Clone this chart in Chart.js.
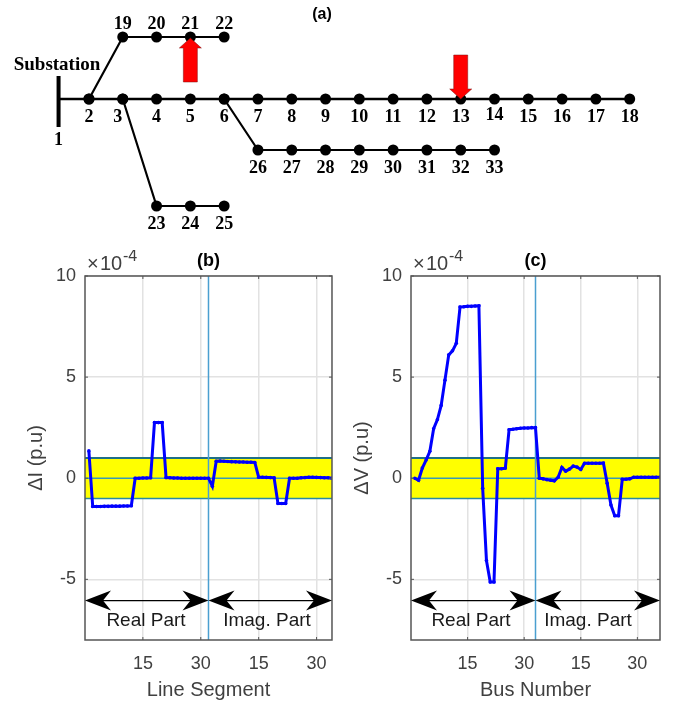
<!DOCTYPE html>
<html>
<head>
<meta charset="utf-8">
<title>Feeder and deviations</title>
<style>
  body { margin: 0; background: #fff; }
  canvas { position: absolute; display: block; }
  #feeder { left: 0; top: 0; }
  #currentChart { left: 0; top: 250px; }
  #voltageChart { left: 340px; top: 250px; }
</style>
<script src="https://cdn.jsdelivr.net/npm/chart.js@4"></script>
</head>
<body>
<canvas id="feeder" width="678" height="240"></canvas>
<canvas id="currentChart" width="340" height="452"></canvas>
<canvas id="voltageChart" width="338" height="452"></canvas>
<script>
// Feeder diagram: bus names and grid positions (column, row)
const mainBuses = ["2","3","4","5","6","7","8","9","10","11","12","13","14","15","16","17","18"];
const mainCols = [1,2,3,4,5,6,7,8,9,10,11,12,13,14,15,16,17];
const topBuses = ["19","20","21","22"];
const topCols = [2,3,4,5];
const midBuses = ["26","27","28","29","30","31","32","33"];
const midCols = [6,7,8,9,10,11,12,13];
const lowBuses = ["23","24","25"];
const lowCols = [3,4,5];
const topRow = 1.24, mainRow = 0, midRow = -1.02, lowRow = -2.14;

// Deviations, x 1e-4 p.u
const currentReal = [1.35,-1.4,-1.4,-1.4,-1.39,-1.39,-1.38,-1.38,-1.38,-1.37,-1.37,-1.36,0,0,0.01,0.01,0.02,2.75,2.75,2.75,0.03,0.02,0.01,0.01,0,0,0,0,0,0,0,0];
const currentImag = [-0.4,0.84,0.85,0.84,0.83,0.82,0.81,0.8,0.8,0.79,0.79,0.78,0.05,0.05,0.04,0.03,0.02,-1.25,-1.25,-1.25,0,0,0,0.02,0.03,0.05,0.05,0.04,0.03,0.02,0.02,0];
const voltageReal = [0,-0.1,0.5,0.9,1.33,2.45,2.9,3.6,4.85,6.1,6.3,6.67,8.47,8.48,8.5,8.5,8.52,8.53,-0.5,-4.07,-5.13,-5.13,0.47,0.47,0.5,2.4,2.42,2.45,2.47,2.48,2.48,2.5,2.5];
const voltageImag = [0,-0.03,-0.07,-0.1,-0.13,0.05,0.53,0.35,0.45,0.6,0.55,0.43,0.74,0.74,0.74,0.74,0.74,0.75,-0.25,-1.33,-1.85,-1.85,-0.05,-0.05,-0.03,0.05,0.05,0.05,0.05,0.05,0.05,0.05,0.05];

const xTicks = [15, 30, 45, 60];
const xTickLabels = ["15", "30", "15", "30"];
const yTicks = [10, 5, 0, -5];
const bandLimit = 1;
const arrowLevel = -6.05;

const sansFont = '"Liberation Sans", Arial, sans-serif';
const serifFont = '"Liberation Serif", "Times New Roman", serif';

// ---- diagram ----
function nodes(cols, row) {
  return cols.map(c => ({ x: c, y: row }));
}

function branch(points, width, radius) {
  return {
    data: points,
    showLine: true,
    borderColor: "#000",
    borderWidth: width,
    backgroundColor: "#000",
    pointBackgroundColor: "#000",
    pointBorderWidth: 0,
    pointRadius: radius === undefined ? 5.5 : radius
  };
}

function busLabels(ctx, chart, names, cols, row, dy) {
  const sx = chart.scales.x, sy = chart.scales.y;
  names.forEach((name, i) => {
    let shift = 0, lift = 0;
    if (name === "3") shift = -5;
    if (name === "14") lift = -2;
    ctx.fillText(name, sx.getPixelForValue(cols[i]) + shift, sy.getPixelForValue(row) + dy + lift);
  });
}

function redArrow(ctx, x, tipY, tailY) {
  const dir = tailY > tipY ? 1 : -1;
  ctx.beginPath();
  ctx.moveTo(x, tipY);
  ctx.lineTo(x + 11, tipY + dir * 10);
  ctx.lineTo(x + 7, tipY + dir * 10);
  ctx.lineTo(x + 7, tailY);
  ctx.lineTo(x - 7, tailY);
  ctx.lineTo(x - 7, tipY + dir * 10);
  ctx.lineTo(x - 11, tipY + dir * 10);
  ctx.closePath();
  ctx.fillStyle = "#ff0000";
  ctx.fill();
  ctx.strokeStyle = "#7a1010";
  ctx.lineWidth = 0.5;
  ctx.stroke();
}

const feederDecor = {
  id: "feederDecor",
  afterDatasetsDraw(chart) {
    const ctx = chart.ctx, sx = chart.scales.x, sy = chart.scales.y;
    ctx.save();
    // substation bar
    const barX = sx.getPixelForValue(0.1);
    ctx.fillStyle = "#000";
    ctx.fillRect(barX - 2, sy.getPixelForValue(0.46), 4, 51);

    ctx.textAlign = "center";
    ctx.textBaseline = "middle";
    ctx.font = "bold 18px " + serifFont;
    busLabels(ctx, chart, mainBuses, mainCols, mainRow, 18);
    busLabels(ctx, chart, topBuses, topCols, topRow, -13);
    busLabels(ctx, chart, midBuses, midCols, midRow, 18);
    busLabels(ctx, chart, lowBuses, lowCols, lowRow, 18);
    ctx.fillText("1", barX, 140);
    ctx.font = "bold 19px " + serifFont;
    ctx.fillText("Substation", 57, 65);

    ctx.font = "bold 16px " + sansFont;
    ctx.fillText("(a)", 322, 15);

    redArrow(ctx, sx.getPixelForValue(4), 38, 82);
    redArrow(ctx, sx.getPixelForValue(12), 99, 55);
    ctx.restore();
  }
};

new Chart(document.getElementById("feeder"), {
  type: "scatter",
  data: {
    datasets: [
      branch(nodes(mainCols, mainRow), 2.5),
      branch([{ x: 0.1, y: mainRow }, { x: 1, y: mainRow }], 2.5, 0),
      branch([{ x: 1, y: mainRow }].concat(nodes(topCols, topRow)), 2.2),
      branch([{ x: 5, y: mainRow }].concat(nodes(midCols, midRow)), 2.2),
      branch([{ x: 2, y: mainRow }].concat(nodes(lowCols, lowRow)), 2.2)
    ]
  },
  options: {
    responsive: false,
    animation: false,
    layout: { padding: 0, autoPadding: false },
    plugins: { legend: { display: false }, tooltip: { enabled: false } },
    scales: {
      x: { display: false, min: -1.633, max: 18.43 },
      y: { display: false, min: -2.82, max: 1.98 }
    }
  },
  plugins: [feederDecor]
});

// ---- deviation panels ----
function flatLine(y, xMax, color, width, extra) {
  return Object.assign({
    data: [{ x: 0, y: y }, { x: xMax, y: y }],
    showLine: true,
    borderColor: color,
    borderWidth: width,
    pointRadius: 0,
    order: 3
  }, extra);
}

function doubleArrow(ctx, x1, x2, y) {
  ctx.strokeStyle = "#000";
  ctx.lineWidth = 1.2;
  ctx.beginPath();
  ctx.moveTo(x1 + 10, y);
  ctx.lineTo(x2 - 10, y);
  ctx.stroke();
  ctx.fillStyle = "#000";
  [[x1, 1], [x2, -1]].forEach(([tip, dir]) => {
    ctx.beginPath();
    ctx.moveTo(tip, y);
    ctx.lineTo(tip + dir * 26, y - 10);
    ctx.lineTo(tip + dir * 18, y);
    ctx.lineTo(tip + dir * 26, y + 10);
    ctx.closePath();
    ctx.fill();
  });
}

function panelDecor(opts) {
  return {
    id: "panelDecor",
    afterDatasetsDraw(chart) {
      const ctx = chart.ctx, a = chart.chartArea, sx = chart.scales.x, sy = chart.scales.y;
      ctx.save();
      // box with inward ticks
      ctx.strokeStyle = "#555";
      ctx.lineWidth = 1.5;
      ctx.strokeRect(a.left, a.top, a.right - a.left, a.bottom - a.top);
      ctx.lineWidth = 1;
      ctx.beginPath();
      xTicks.forEach(v => {
        const px = sx.getPixelForValue(v);
        ctx.moveTo(px, a.top); ctx.lineTo(px, a.top + 3);
        ctx.moveTo(px, a.bottom); ctx.lineTo(px, a.bottom - 3);
      });
      yTicks.forEach(v => {
        const py = sy.getPixelForValue(v);
        ctx.moveTo(a.left, py); ctx.lineTo(a.left + 3, py);
        ctx.moveTo(a.right, py); ctx.lineTo(a.right - 3, py);
      });
      ctx.stroke();

      const yArrow = sy.getPixelForValue(arrowLevel);
      const mid = sx.getPixelForValue(opts.split);
      doubleArrow(ctx, a.left, mid, yArrow);
      doubleArrow(ctx, mid, a.right, yArrow);

      ctx.fillStyle = "#1a1a1a";
      ctx.textAlign = "center";
      ctx.textBaseline = "middle";
      ctx.font = "19px " + sansFont;
      ctx.fillText("Real Part", opts.realX, yArrow + 20);
      ctx.fillText("Imag. Part", opts.imagX, yArrow + 20);

      ctx.fillStyle = "#000";
      ctx.font = "bold 18px " + sansFont;
      ctx.fillText(opts.title, mid, a.top - 15);

      ctx.fillStyle = "#404040";
      ctx.textAlign = "left";
      ctx.textBaseline = "alphabetic";
      ctx.font = "20px " + sansFont;
      ctx.fillText("\u00d7", a.left + 2, a.top - 6);
      ctx.fillText("10", a.left + 15, a.top - 6);
      ctx.font = "16px " + sansFont;
      ctx.fillText("-4", a.left + 38, a.top - 15);
      ctx.restore();
    }
  };
}

function makePanel(canvasId, real, imag, opts) {
  const values = real.concat(imag);
  const series = values.map((v, i) => ({ x: i + 1, y: v }));
  const xMax = opts.xMax;
  return new Chart(document.getElementById(canvasId), {
    type: "scatter",
    data: {
      datasets: [
        {
          data: series,
          showLine: true,
          borderColor: "#0000ff",
          borderWidth: 3,
          pointRadius: 1.8,
          pointBackgroundColor: "#0000ff",
          pointBorderWidth: 0,
          order: 0
        },
        flatLine(0, xMax, "#3a9bb5", 1.5, { order: 2 }),
        {
          data: [{ x: opts.split, y: -8 }, { x: opts.split, y: 10 }],
          showLine: true,
          borderColor: "#4a9fd0",
          borderWidth: 1.5,
          pointRadius: 0,
          order: 1
        },
        flatLine(-bandLimit, xMax, "#2b8aa0", 1.5, { order: 3 }),
        flatLine(bandLimit, xMax, "#1f6f88", 1.8, {
          fill: { value: -bandLimit },
          backgroundColor: "#ffff00",
          order: 4
        })
      ]
    },
    options: {
      responsive: false,
      animation: false,
      layout: { padding: { top: 26, right: opts.right, left: 0, bottom: 0 }, autoPadding: false },
      plugins: { legend: { display: false }, tooltip: { enabled: false } },
      scales: {
        x: {
          type: "linear",
          min: 0,
          max: xMax,
          afterBuildTicks(s) { s.ticks = xTicks.map(v => ({ value: v })); },
          afterFit(s) { s.height = 62; },
          ticks: {
            autoSkip: false,
            maxRotation: 0,
            padding: 13,
            color: "#404040",
            font: { family: sansFont, size: 18 },
            callback: v => xTickLabels[xTicks.indexOf(v)]
          },
          grid: { color: "#e2e2e2", lineWidth: 1.5, drawTicks: false },
          border: { display: false },
          title: {
            display: true,
            text: opts.xTitle,
            color: "#404040",
            font: { family: sansFont, size: 20 },
            padding: { top: 4, bottom: 0 }
          }
        },
        y: {
          min: -8,
          max: 10,
          afterBuildTicks(s) { s.ticks = yTicks.map(v => ({ value: v })); },
          afterFit(s) { s.width = opts.left; },
          ticks: {
            autoSkip: false,
            padding: 9,
            color: "#404040",
            font: { family: sansFont, size: 18 }
          },
          grid: { color: "#e2e2e2", lineWidth: 1.5, drawTicks: false },
          border: { display: false },
          title: {
            display: true,
            text: opts.yTitle,
            color: "#404040",
            font: { family: sansFont, size: 20 },
            padding: { top: opts.titleGap, bottom: 0 }
          }
        }
      }
    },
    plugins: [panelDecor(opts)]
  });
}

makePanel("currentChart", currentReal, currentImag, {
  xMax: 64, split: 32, left: 85, right: 7, titleGap: 24,
  xTitle: "Line Segment", yTitle: "\u0394I (p.u)", title: "(b)",
  realX: 146, imagX: 267
});

makePanel("voltageChart", voltageReal, voltageImag, {
  xMax: 66, split: 33, left: 71, right: 18, titleGap: 10,
  xTitle: "Bus Number", yTitle: "\u0394V (p.u)", title: "(c)",
  realX: 131, imagX: 248
});
</script>
</body>
</html>
